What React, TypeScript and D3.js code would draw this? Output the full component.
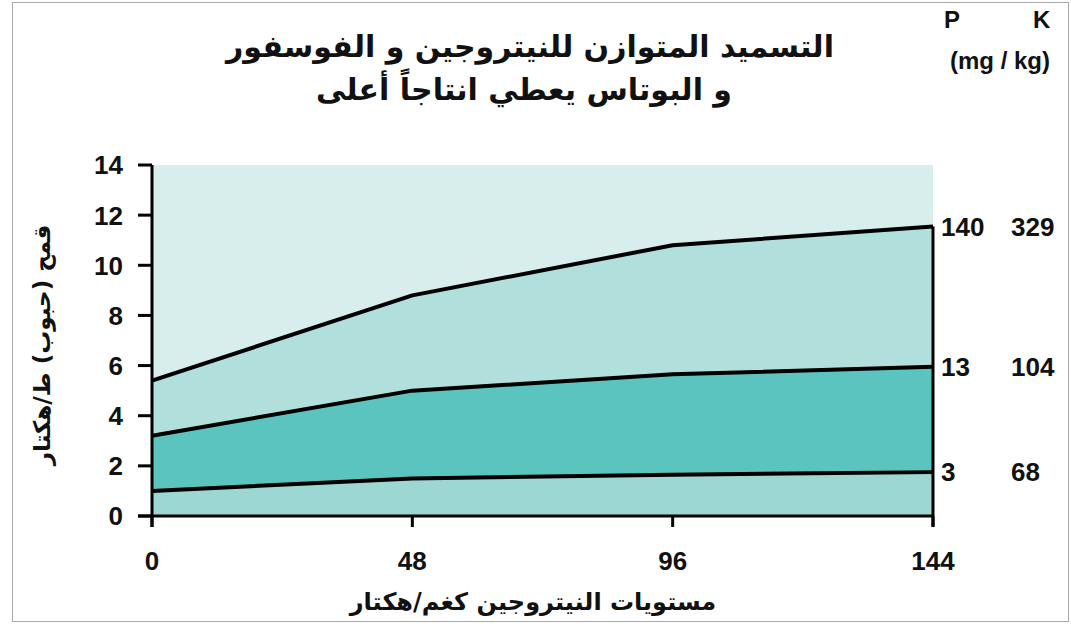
import * as d3 from "d3";

const nLevels = [0, 48, 96, 144];
const lowYield = [1.0, 1.5, 1.65, 1.75];
const midYield = [3.2, 5.0, 5.65, 5.95];
const highYield = [5.4, 8.8, 10.8, 11.55];
const yTicks = [0, 2, 4, 6, 8, 10, 12, 14];
const pLabels = ["3", "13", "140"];
const kLabels = ["68", "104", "329"];

const W = 1071;
const H = 624;
const arabic = "'DejaVu Sans', sans-serif";
const latin = "'Liberation Sans', Arial, sans-serif";

export default function App() {
  const x = d3.scaleLinear().domain([0, 144]).range([152, 933]);
  const y = d3.scaleLinear().domain([0, 14]).range([516, 165]);

  const series = [lowYield, midYield, highYield];
  const fills = ["#9dd7d3", "#5bc4be", "#b1dfdc"];

  const band = (lo: number[] | null, hi: number[]) =>
    d3
      .area<number>()
      .x((d) => x(d))
      .y0((_, i) => y(lo ? lo[i] : 0))
      .y1((_, i) => y(hi[i]))(nLevels) as string;

  const line = (vals: number[]) =>
    d3
      .line<number>()
      .x((d) => x(d))
      .y((_, i) => y(vals[i]))(nLevels) as string;

  return (
    <svg width={W} height={H} style={{ position: "absolute", left: 0, top: 0 }}>
      <rect x={0} y={0} width={W} height={H} fill="#fff" />
      <rect x={12.5} y={2.5} width={1056} height={619} fill="none" stroke="#aaa" strokeWidth={1} />

      {/* title */}
      <g fontFamily={arabic} fontWeight="bold" fontSize={30} textAnchor="middle" fill="#111" direction="rtl">
        <text x={530} y={57}>التسميد المتوازن للنيتروجين و الفوسفور</text>
        <text x={524} y={100}>و البوتاس يعطي انتاجاً أعلى</text>
      </g>
      <g fontFamily={latin} fontWeight="bold" fontSize={24} fill="#111">
        <text x={944} y={28}>P</text>
        <text x={1033} y={28}>K</text>
        <text x={1000} y={69} textAnchor="middle">(mg / kg)</text>
      </g>

      {/* plot background */}
      <rect x={x(0)} y={y(14)} width={x(144) - x(0)} height={y(0) - y(14)} fill="#d7eeed" />
      <path d={band(midYield, highYield)} fill={fills[2]} />
      <path d={band(lowYield, midYield)} fill={fills[1]} />
      <path d={band(null, lowYield)} fill={fills[0]} />
      {series.map((s, i) => (
        <path key={i} d={line(s)} fill="none" stroke="#000" strokeWidth={4} strokeLinejoin="round" />
      ))}

      {/* axes */}
      <g stroke="#000" strokeWidth={3}>
        <line x1={x(0)} x2={x(0)} y1={y(14)} y2={y(0) + 11} />
        <line x1={x(144)} x2={x(144)} y1={y(highYield[3])} y2={y(0) + 11} />
        <line x1={x(0) - 14} x2={x(144)} y1={y(0)} y2={y(0)} />
        {yTicks.map((t) => (
          <line key={t} x1={x(0) - 14} x2={x(0)} y1={y(t)} y2={y(t)} />
        ))}
        {nLevels.map((n) => (
          <line key={n} x1={x(n)} x2={x(n)} y1={y(0)} y2={y(0) + 11} />
        ))}
      </g>
      <g fontFamily={latin} fontWeight="bold" fontSize={26} fill="#111">
        {yTicks.map((t) => (
          <text key={t} x={123} y={y(t)} dy="0.36em" textAnchor="end">
            {t}
          </text>
        ))}
        {nLevels.map((n) => (
          <text key={n} x={x(n)} y={570} textAnchor="middle">
            {n}
          </text>
        ))}
        {series.map((s, i) => (
          <g key={i}>
            <text x={941} y={y(s[3])} dy="0.36em">
              {pLabels[i]}
            </text>
            <text x={1011} y={y(s[3])} dy="0.36em">
              {kLabels[i]}
            </text>
          </g>
        ))}
      </g>

      {/* axis titles */}
      <text x={533} y={610} fontFamily={arabic} fontWeight="bold" fontSize={24} textAnchor="middle" fill="#111" direction="rtl">
        مستويات النيتروجين كغم/هكتار
      </text>
      <text
        transform="translate(50,345) rotate(-90)"
        fontFamily={arabic}
        fontWeight="bold"
        fontSize={23}
        textAnchor="middle"
        fill="#111"
        direction="rtl"
      >
        قمح (حبوب) ط/هكتار
      </text>
    </svg>
  );
}
